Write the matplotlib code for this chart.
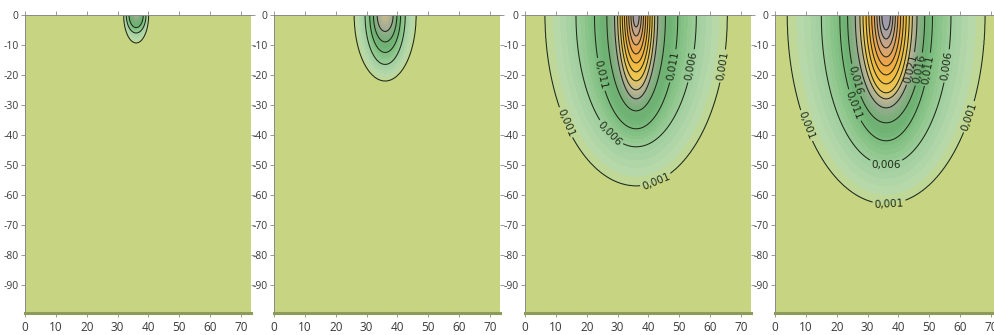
import numpy as np
import matplotlib
matplotlib.use('Agg')
import matplotlib.pyplot as plt
from matplotlib.colors import LinearSegmentedColormap

# ---- data ----------------------------------------------------------------
# each panel: contour levels (outer -> inner), half width of each contour at
# the surface and its depth, plus the value at the source point (x=36, y=0)
src_x = 36.0

levels_1 = [0.001, 0.006, 0.011]
halfw_1 = [4.0, 3.2, 2.3]
depth_1 = [9.3, 6.0, 4.2]
peak_1 = 0.023

levels_2 = [0.001, 0.006, 0.011, 0.016, 0.021]
halfw_2 = [10.0, 6.5, 5.0, 3.8, 2.6]
depth_2 = [22.0, 16.5, 12.5, 9.0, 5.5]
peak_2 = 0.027

levels_3 = [0.001, 0.006, 0.011, 0.016, 0.021, 0.026, 0.031, 0.036, 0.041,
            0.046, 0.051, 0.056, 0.061]
halfw_3 = [29.5, 19.5, 13.5, 9.5, 7.0, 6.0, 5.2, 4.5, 3.8, 3.1, 2.4, 1.7, 1.0]
depth_3 = [57, 44, 38, 32, 28, 25, 22, 19, 16, 13, 10, 7, 4]
peak_3 = 0.066

levels_4 = [0.001, 0.006, 0.011, 0.016, 0.021, 0.026, 0.031, 0.036, 0.041,
            0.046, 0.051, 0.056, 0.061, 0.066]
halfw_4 = [32, 21, 15, 12.5, 10, 8.5, 7.5, 6.5, 5.6, 4.7, 3.8, 3.0, 2.2, 1.4]
depth_4 = [63, 50, 42, 36, 31, 28, 26, 23, 20, 17, 14, 11, 8, 5]
peak_4 = 0.072

# labelled levels and where the labels sit (x, y)
labels_3 = [(15, -35), (64, -17), (43, -56.5), (27, -40), (54, -17),
            (24, -20), (48, -17)]
labels_4 = [(10, -37), (66, -35), (37, -63), (36, -50), (55.5, -17),
            (25, -22), (26, -30), (44.7, -18), (46.5, -18), (48.5, -18)]

xticks = [0, 10, 20, 30, 40, 50, 60, 70]
yticks = [0, -10, -20, -30, -40, -50, -60, -70, -80, -90]

# colour scale (value, colour)
cstops = [(0.000, '#c8d580'), (0.0008, '#c6d686'), (0.002, '#b9d9a8'),
          (0.005, '#a5d1a3'), (0.009, '#86c285'), (0.014, '#6cb171'),
          (0.018, '#7fae7e'), (0.022, '#a2aa96'), (0.027, '#c9bb8a'),
          (0.032, '#ecc755'), (0.040, '#f2b83e'), (0.048, '#eea34a'),
          (0.056, '#d3a57e'), (0.064, '#a9a0a4'), (0.072, '#9c98ae')]
vmax = cstops[-1][0]
cmap = LinearSegmentedColormap.from_list(
    'plume', [(v / vmax, c) for v, c in cstops])


def build_field(X, Y, lev, hw, dp, peak):
    lev = np.asarray(lev, float)
    a = np.asarray(hw, float)[:, None, None]
    b = np.asarray(dp, float)[:, None, None]
    dx = (X - src_x)[None]
    r = np.sqrt((dx / a) ** 2 + (Y[None] / b) ** 2)
    c = np.zeros(X.shape)
    out = r[0] >= 1
    c[out] = lev[0] * np.clip(1 - (r[0][out] - 1) / 0.5, 0, 1)
    for k in range(len(lev) - 1):
        m = (r[k] < 1) & (r[k + 1] >= 1)
        t = (1 - r[k][m]) / (r[k + 1][m] - r[k][m])
        c[m] = lev[k] + t * (lev[k + 1] - lev[k])
    m = r[-1] < 1
    c[m] = lev[-1] + (peak - lev[-1]) * (1 - r[-1][m])
    return c


def fmt(v):
    return ('%.3f' % v).replace('.', ',')


xs = np.linspace(0, 74, 600)
ys = np.linspace(-100, 0, 800)
X, Y = np.meshgrid(xs, ys)

panels = [
    (levels_1, halfw_1, depth_1, peak_1, None),
    (levels_2, halfw_2, depth_2, peak_2, None),
    (levels_3, halfw_3, depth_3, peak_3, labels_3),
    (levels_4, halfw_4, depth_4, peak_4, labels_4),
]

fig = plt.figure(figsize=(9.95, 3.35), dpi=100)
lefts = [25, 274, 525, 775]

for i, (lev, hw, dp, pk, lab) in enumerate(panels):
    ax = fig.add_axes([lefts[i] / 995, 1 - 313 / 335, 226 / 995, 298 / 335])
    Z = build_field(X, Y, lev, hw, dp, pk)
    fill_lev = np.arange(0, vmax + 0.001, 0.001)
    ax.contourf(X, Y, Z, levels=fill_lev, cmap=cmap, vmin=0, vmax=vmax)
    cs = ax.contour(X, Y, Z, levels=lev, colors='#1f2a18', linewidths=0.75)
    if lab is not None:
        txt = ax.clabel(cs, fmt=fmt, fontsize=7.5, inline=True,
                        inline_spacing=2, manual=lab)
        for t in txt:
            t.set_color('#1f2a18')
    ax.set_xlim(0, 73.2)
    ax.set_ylim(-99.5, 0)
    ax.set_xticks(xticks)
    ax.set_yticks(yticks)
    ax.set_xticklabels([str(v) for v in xticks], fontsize=8.5, color='#3a3a3a')
    ax.set_yticklabels([str(v) for v in yticks], fontsize=7.5, color='#3a3a3a')
    ax.tick_params(top=True, right=True, direction='out', length=3,
                   width=0.6, color='#888888', pad=1.5)
    ax.tick_params(axis='x', pad=3)
    for s in ['top', 'left', 'right']:
        ax.spines[s].set_color('#8a8a8a')
        ax.spines[s].set_linewidth(0.7)
    ax.spines['right'].set_visible(False)
    ax.spines['bottom'].set_color('#8c9c58')
    ax.spines['bottom'].set_linewidth(2.2)
    for t in ax.get_xticklabels() + ax.get_yticklabels():
        t.set_family(['Open Sans', 'DejaVu Sans'])

fig.savefig('out.png', dpi=100)
